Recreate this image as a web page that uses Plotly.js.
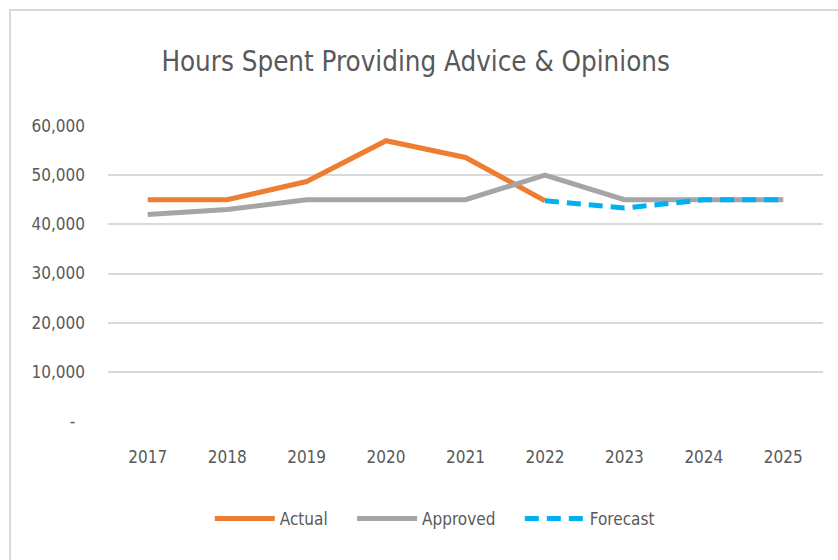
<!DOCTYPE html>
<html>
<head>
<meta charset="utf-8">
<script src="https://cdn.plot.ly/plotly-3.0.1.min.js"></script>
<style>
  html, body { margin: 0; padding: 0; background: #ffffff; }
  #chart { width: 838px; height: 560px; }
</style>
</head>
<body>
<div id="chart"></div>
<script>
const years = ["2017", "2018", "2019", "2020", "2021", "2022", "2023", "2024", "2025"];
const actual = [45000, 45000, 48700, 57000, 53600, 44800, null, null, null];
const approved = [42000, 43000, 45000, 45000, 45000, 50000, 45000, 45000, 45000];
const forecast = [null, null, null, null, null, 44800, 43300, 45000, 45000];
const yTickVals = [0, 10000, 20000, 30000, 40000, 50000, 60000];
const yTickText = ["-\u00a0\u00a0", "10,000", "20,000", "30,000", "40,000", "50,000", "60,000"];
const seriesNames = ["Actual", "Approved", "Forecast"];

const FONT = '"Liberation Sans Narrow", "DejaVu Sans Condensed", "Roboto Condensed", sans-serif';
const TXT = '#595959';
const PAD = '\u00a0\u00a0\u00a0\u00a0';

const traces = [
  { x: years, y: actual, name: seriesNames[0] + PAD, type: 'scatter', mode: 'lines',
    line: { color: '#ED7D31', width: 5 }, connectgaps: false },
  { x: years, y: approved, name: seriesNames[1] + PAD, type: 'scatter', mode: 'lines',
    line: { color: '#A5A5A5', width: 5 } },
  { x: years, y: forecast, name: seriesNames[2], type: 'scatter', mode: 'lines',
    line: { color: '#00B0F0', width: 5, dash: '14px,8px' }, connectgaps: false }
];

// plot area: x 108..823, y 126..421
const L = 108, R = 823, T = 126, B = 421;
const pw = R - L, ph = B - T;
const px = v => (v - L) / pw;
const py = v => (B - v) / ph;

const layout = {
  width: 838, height: 560,
  margin: { l: L, r: 838 - R, t: T, b: 560 - B },
  paper_bgcolor: '#ffffff', plot_bgcolor: '#ffffff',
  font: { family: FONT, color: TXT, size: 17 },
  title: { text: 'Hours Spent Providing Advice &amp; Opinions',
    font: { family: FONT, size: 27.5, color: TXT },
    x: 0.496, xref: 'container', xanchor: 'center',
    y: 1 - 61 / 560, yanchor: 'middle' },
  xaxis: { type: 'category', showgrid: false, zeroline: false, showline: false,
    ticks: '', ticklabelstandoff: 24, tickfont: { family: FONT, size: 17, color: TXT },
    range: [-0.5, 8.5], fixedrange: true },
  yaxis: { range: [0, 60000], tickvals: yTickVals, ticktext: yTickText,
    showgrid: true, gridcolor: '#D9D9D9', gridwidth: 2,
    zeroline: false, showline: false, ticks: '',
    ticklabelstandoff: 22,
    tickfont: { family: FONT, size: 17, color: TXT }, fixedrange: true },
  showlegend: true,
  legend: { orientation: 'h', x: 0.457, xanchor: 'center', y: py(519), yanchor: 'middle',
    font: { family: FONT, size: 17, color: TXT }, itemwidth: 60,
    bgcolor: 'rgba(0,0,0,0)', tracegroupgap: 0 },
  shapes: [
    { type: 'rect', xref: 'paper', yref: 'paper',
      x0: px(10), x1: px(850), y0: py(580), y1: py(10),
      line: { color: '#D9D9D9', width: 2 }, fillcolor: 'rgba(0,0,0,0)', layer: 'below' }
  ]
};

Plotly.newPlot('chart', traces, layout, { displayModeBar: false, staticPlot: true });
</script>
</body>
</html>
